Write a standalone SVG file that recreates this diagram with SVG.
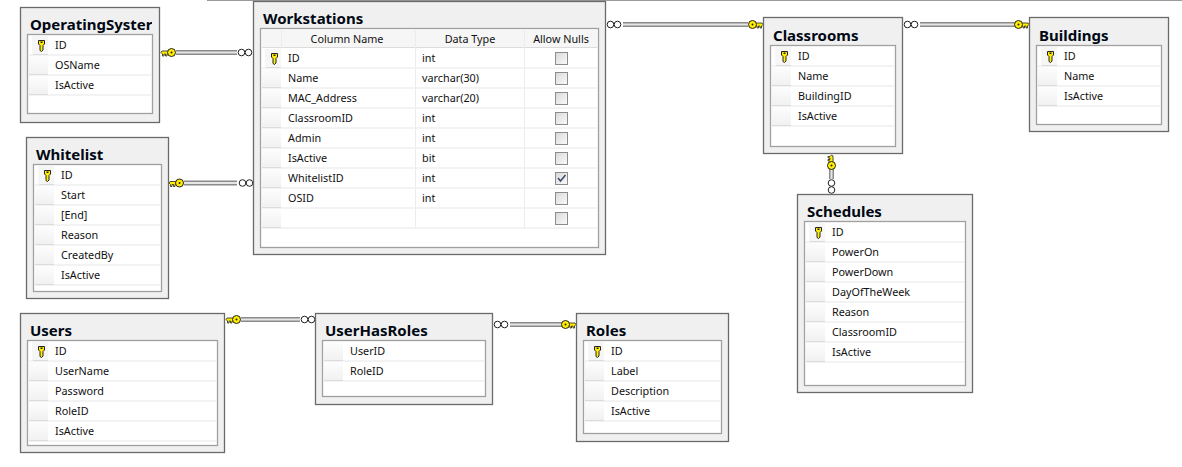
<svg xmlns="http://www.w3.org/2000/svg" width="1182" height="467" viewBox="0 0 1182 467">
<style>
text{font-family:"Noto Sans","DejaVu Sans",sans-serif;fill:#000}
.t{font-size:15px;font-weight:bold;fill:#000814}
.c{font-size:10.800px;fill:#111}
.h{font-size:10.800px;fill:#111;text-anchor:middle}
.o{fill:#f0f0f0;stroke:#6a6a6a;stroke-width:1.300}
.i{fill:#fff;stroke:#a0a0a0;stroke-width:1.300}
.sep{stroke:#efefef;stroke-width:1.500;fill:none}
.s1{fill:none;stroke:#8a8a8a;stroke-width:5}
.s2{fill:none;stroke:#e6e6e6;stroke-width:2}
</style>
<defs>
<linearGradient id="g" x1="0" y1="0" x2="0" y2="1"><stop offset="0" stop-color="#fdfdfd"/><stop offset="1" stop-color="#f1f1f1"/></linearGradient>
<linearGradient id="cb" x1="0" y1="0" x2="1" y2="1"><stop offset="0" stop-color="#d8d8d8"/><stop offset="1" stop-color="#fbfbfb"/></linearGradient>
<clipPath id="osclip"><rect x="20" y="8" width="132" height="26"/></clipPath>
<g id="sel"><rect x="0" y="-9" width="19" height="18" fill="url(#g)"/><path d="M0 9.500H19" stroke="#dcdcdc" fill="none"/></g>
<g id="key"><rect x="3" y="-9" width="16" height="18" fill="#f6f6f6"/><path d="M4 9.500H19" stroke="#dcdcdc" fill="none"/>
<path d="M9.500-4.500h6v3.500l-1.500 1.500v4.500l-1.500 1.500-1.500-1v-5l-1.500-1.500z" fill="#ffee00" stroke="#222" stroke-width="1"/><rect x="11.500" y="-3.500" width="2" height="1.500" fill="#222"/></g>
<g id="bx"><rect x="0.500" y="-5.500" width="12" height="12" fill="url(#cb)" stroke="#8c8c8c"/></g>
<g id="kR"><path d="M1-1.500h7v3H6v2H4.500v-2H3v2H1.500v-2L0 0z" fill="#ffee00" stroke="#222" stroke-width=".8"/><circle cx="10.500" cy="0" r="4" fill="#ffee00" stroke="#222" stroke-width="1"/><circle cx="10.500" cy="0" r="1" fill="#222"/></g>
<g id="inf"><circle cx="3.500" cy="0" r="3.300" fill="#fff" stroke="#222"/><circle cx="10.500" cy="0" r="3.300" fill="#fff" stroke="#222"/></g>
</defs>
<rect width="1182" height="467" fill="#fff"/>
<path d="M207 .500H1182" stroke="#9a9a9a" fill="none"/>

<g id="connectors">
<path class="s1" d="M176 52.500H237"/><path class="s2" d="M176 52.500H237"/><use href="#kR" transform="translate(161 52.500)"/><use href="#inf" transform="translate(238 52.500)"/>
<path class="s1" d="M184 183H237"/><path class="s2" d="M184 183H237"/><use href="#kR" transform="translate(169 183)"/><use href="#inf" transform="translate(239 183)"/>
<path class="s1" d="M623 24.500H748"/><path class="s2" d="M623 24.500H748"/><use href="#inf" transform="translate(607 24.500)"/><use href="#kR" transform="translate(763 24.500) scale(-1 1)"/>
<path class="s1" d="M920 24.500H1015"/><path class="s2" d="M920 24.500H1015"/><use href="#inf" transform="translate(904 24.500)"/><use href="#kR" transform="translate(1029 24.500) scale(-1 1)"/>
<path class="s1" d="M831.500 169V179"/><path class="s2" d="M831.500 169V179"/><use href="#kR" transform="translate(831.500 155) rotate(90)"/><use href="#inf" transform="translate(831.500 179.500) rotate(90)"/>
<path class="s1" d="M241 319.500H300"/><path class="s2" d="M241 319.500H300"/><use href="#kR" transform="translate(226 319.500)"/><use href="#inf" transform="translate(301 319.500)"/>
<path class="s1" d="M510 324.500H562"/><path class="s2" d="M510 324.500H562"/><use href="#inf" transform="translate(494 324.500)"/><use href="#kR" transform="translate(576 324.500) scale(-1 1)"/>
</g>

<g id="OperatingSystem">
<rect class="o" x="20.500" y="7.500" width="139" height="115"/><rect class="i" x="27.500" y="34.500" width="125" height="79"/>
<text class="t" x="30" y="30" clip-path="url(#osclip)">OperatingSyster</text>
<path class="sep" d="M29 55H151M29 75H151M29 95H151"/>
<use href="#key" transform="translate(29 45)"/><use href="#sel" transform="translate(29 65)"/><use href="#sel" transform="translate(29 85)"/>
<text class="c" x="55" y="49">ID</text><text class="c" x="55" y="69">OSName</text><text class="c" x="55" y="89">IsActive</text>
</g>

<g id="Workstations">
<rect class="o" x="253.500" y="1.500" width="352" height="253"/><rect class="i" x="260.500" y="28.500" width="338" height="219"/>
<text class="t" x="263" y="24">Workstations</text>
<path d="M262 30H597V47H262z" fill="#f6f6f6"/>
<path d="M262 47.500H597" stroke="#dcdcdc" fill="none"/>
<path d="M281.500 30V48M415.500 30V228M524.500 30V228" stroke="#ececec" fill="none"/>
<text class="h" x="347" y="43">Column Name</text><text class="h" x="470" y="43">Data Type</text><text class="h" x="561" y="43">Allow Nulls</text>
<path class="sep" d="M262 68H597M262 88H597M262 108H597M262 128H597M262 148H597M262 168H597M262 188H597M262 208H597M262 228H597"/>
<use href="#key" transform="translate(262 58)"/><use href="#sel" transform="translate(262 78)"/><use href="#sel" transform="translate(262 98)"/><use href="#sel" transform="translate(262 118)"/><use href="#sel" transform="translate(262 138)"/><use href="#sel" transform="translate(262 158)"/><use href="#sel" transform="translate(262 178)"/><use href="#sel" transform="translate(262 198)"/><use href="#sel" transform="translate(262 218)"/>
<text class="c" x="288" y="62">ID</text><text class="c" x="422" y="62">int</text>
<text class="c" x="288" y="82">Name</text><text class="c" x="422" y="82">varchar(30)</text>
<text class="c" x="288" y="102">MAC_Address</text><text class="c" x="422" y="102">varchar(20)</text>
<text class="c" x="288" y="122">ClassroomID</text><text class="c" x="422" y="122">int</text>
<text class="c" x="288" y="142">Admin</text><text class="c" x="422" y="142">int</text>
<text class="c" x="288" y="162">IsActive</text><text class="c" x="422" y="162">bit</text>
<text class="c" x="288" y="182">WhitelistID</text><text class="c" x="422" y="182">int</text>
<text class="c" x="288" y="202">OSID</text><text class="c" x="422" y="202">int</text>
<use href="#bx" transform="translate(555 58)"/><use href="#bx" transform="translate(555 78)"/><use href="#bx" transform="translate(555 98)"/><use href="#bx" transform="translate(555 118)"/><use href="#bx" transform="translate(555 138)"/><use href="#bx" transform="translate(555 158)"/><use href="#bx" transform="translate(555 178)"/><use href="#bx" transform="translate(555 198)"/><use href="#bx" transform="translate(555 218)"/>
<path d="M558 178l2.500 3 5-6" fill="none" stroke="#3a4a6a" stroke-width="1.500"/>
</g>

<g id="Classrooms">
<rect class="o" x="763.500" y="17.500" width="139" height="136"/><rect class="i" x="770.500" y="45.500" width="125" height="101"/>
<text class="t" x="773" y="41">Classrooms</text>
<path class="sep" d="M772 66H894M772 86H894M772 106H894M772 126H894"/>
<use href="#key" transform="translate(772 56)"/><use href="#sel" transform="translate(772 76)"/><use href="#sel" transform="translate(772 96)"/><use href="#sel" transform="translate(772 116)"/>
<text class="c" x="798" y="60">ID</text><text class="c" x="798" y="80">Name</text><text class="c" x="798" y="100">BuildingID</text><text class="c" x="798" y="120">IsActive</text>
</g>

<g id="Buildings">
<rect class="o" x="1029.500" y="17.500" width="139" height="114"/><rect class="i" x="1036.500" y="45.500" width="125" height="79"/>
<text class="t" x="1039" y="41">Buildings</text>
<path class="sep" d="M1038 66H1160M1038 86H1160M1038 106H1160"/>
<use href="#key" transform="translate(1038 56)"/><use href="#sel" transform="translate(1038 76)"/><use href="#sel" transform="translate(1038 96)"/>
<text class="c" x="1064" y="60">ID</text><text class="c" x="1064" y="80">Name</text><text class="c" x="1064" y="100">IsActive</text>
</g>

<g id="Whitelist">
<rect class="o" x="26.500" y="137.500" width="142" height="161"/><rect class="i" x="33.500" y="164.500" width="128" height="127"/>
<text class="t" x="36" y="160">Whitelist</text>
<path class="sep" d="M35 185H160M35 205H160M35 225H160M35 245H160M35 265H160M35 285H160"/>
<use href="#key" transform="translate(35 175)"/><use href="#sel" transform="translate(35 195)"/><use href="#sel" transform="translate(35 215)"/><use href="#sel" transform="translate(35 235)"/><use href="#sel" transform="translate(35 255)"/><use href="#sel" transform="translate(35 275)"/>
<text class="c" x="61" y="179">ID</text><text class="c" x="61" y="199">Start</text><text class="c" x="61" y="219">[End]</text><text class="c" x="61" y="239">Reason</text><text class="c" x="61" y="259">CreatedBy</text><text class="c" x="61" y="279">IsActive</text>
</g>

<g id="Schedules">
<rect class="o" x="797.500" y="194.500" width="175" height="198"/><rect class="i" x="804.500" y="221.500" width="161" height="164"/>
<text class="t" x="807" y="217">Schedules</text>
<path class="sep" d="M806 242H964M806 262H964M806 282H964M806 302H964M806 322H964M806 342H964M806 362H964"/>
<use href="#key" transform="translate(806 232)"/><use href="#sel" transform="translate(806 252)"/><use href="#sel" transform="translate(806 272)"/><use href="#sel" transform="translate(806 292)"/><use href="#sel" transform="translate(806 312)"/><use href="#sel" transform="translate(806 332)"/><use href="#sel" transform="translate(806 352)"/>
<text class="c" x="832" y="236">ID</text><text class="c" x="832" y="256">PowerOn</text><text class="c" x="832" y="276">PowerDown</text><text class="c" x="832" y="296">DayOfTheWeek</text><text class="c" x="832" y="316">Reason</text><text class="c" x="832" y="336">ClassroomID</text><text class="c" x="832" y="356">IsActive</text>
</g>

<g id="Users">
<rect class="o" x="20.500" y="313.500" width="204" height="139"/><rect class="i" x="27.500" y="340.500" width="190" height="105"/>
<text class="t" x="30" y="336">Users</text>
<path class="sep" d="M29 361H216M29 381H216M29 401H216M29 421H216M29 441H216"/>
<use href="#key" transform="translate(29 351)"/><use href="#sel" transform="translate(29 371)"/><use href="#sel" transform="translate(29 391)"/><use href="#sel" transform="translate(29 411)"/><use href="#sel" transform="translate(29 431)"/>
<text class="c" x="55" y="355">ID</text><text class="c" x="55" y="375">UserName</text><text class="c" x="55" y="395">Password</text><text class="c" x="55" y="415">RoleID</text><text class="c" x="55" y="435">IsActive</text>
</g>

<g id="UserHasRoles">
<rect class="o" x="315.500" y="313.500" width="177" height="91"/><rect class="i" x="322.500" y="340.500" width="163" height="56"/>
<text class="t" x="325" y="336">UserHasRoles</text>
<path class="sep" d="M324 361H484M324 381H484"/>
<use href="#sel" transform="translate(324 351)"/><use href="#sel" transform="translate(324 371)"/>
<text class="c" x="350" y="355">UserID</text><text class="c" x="350" y="375">RoleID</text>
</g>

<g id="Roles">
<rect class="o" x="576.500" y="313.500" width="152" height="128"/><rect class="i" x="583.500" y="340.500" width="138" height="93"/>
<text class="t" x="586" y="336">Roles</text>
<path class="sep" d="M585 361H720M585 381H720M585 401H720M585 421H720"/>
<use href="#key" transform="translate(585 351)"/><use href="#sel" transform="translate(585 371)"/><use href="#sel" transform="translate(585 391)"/><use href="#sel" transform="translate(585 411)"/>
<text class="c" x="611" y="355">ID</text><text class="c" x="611" y="375">Label</text><text class="c" x="611" y="395">Description</text><text class="c" x="611" y="415">IsActive</text>
</g>
</svg>
